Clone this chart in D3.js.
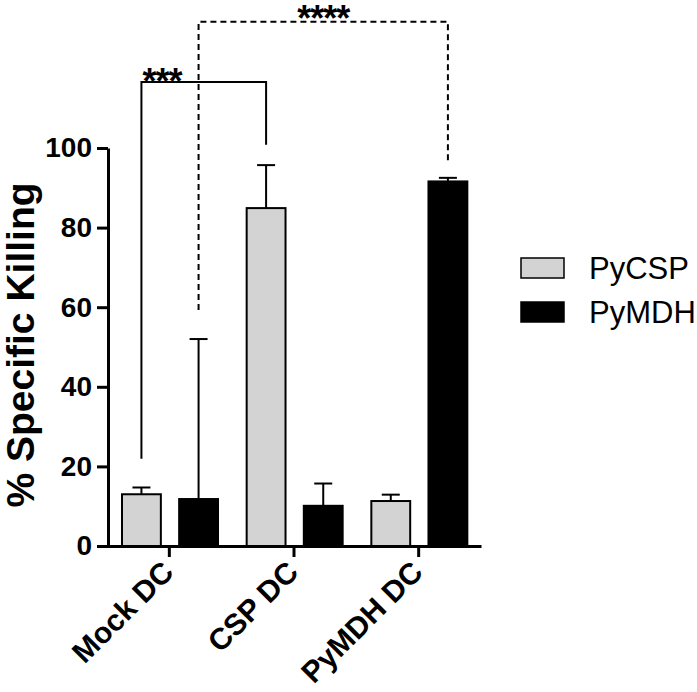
<!DOCTYPE html>
<html>
<head>
<meta charset="utf-8">
<script src="https://cdn.jsdelivr.net/npm/d3@7"></script>
<style>
  body { margin: 0; background: #fff; }
  svg text { font-family: "Liberation Sans", Arial, Helvetica, sans-serif; }
</style>
</head>
<body>
<div id="viz-wrapper"></div>
<script>
  // size of the page
  var width = 697,
      height = 692;

  // data
  var groups = ["Mock DC", "CSP DC", "PyMDH DC"];
  var series = ["PyCSP", "PyMDH"];
  var means = {
    "PyCSP": [13.0, 84.9, 11.3],
    "PyMDH": [11.8, 10.1, 91.6]
  };
  var errTop = {
    "PyCSP": [14.7, 95.7, 12.9],
    "PyMDH": [52.0, 15.7, 92.5]
  };
  var yTicks = [0, 20, 40, 60, 80, 100];
  var colors = ["#d3d3d3", "#000000"];

  // significance brackets: [group, series] for each leg, leg bottoms, bar height
  var brackets = [
    { from: [0, "PyCSP"], to: [1, "PyCSP"], lo: [21.9, 100.8], top: 116.6, label: "***", dashed: false, align: "start", gap: 4 },
    { from: [0, "PyMDH"], to: [2, "PyMDH"], lo: [59.3, 96.5], top: 131.7, label: "****", dashed: true, align: "middle", gap: 7 }
  ];

  var viz = d3.select("#viz-wrapper")
    .append("svg")
    .attr("width", width)
    .attr("height", height);

  // scales
  var x = d3.scaleBand().domain(groups).range([107, 481]);
  var x1 = d3.scaleBand().domain(series).range([15, 111]).paddingInner(0.32);
  var y = d3.scaleLinear().domain([0, 100]).range([546, 148]);
  var color = d3.scaleOrdinal().domain(series).range(colors);

  function cx(gi, s) {
    return x(groups[gi]) + x1(s) + x1.bandwidth() / 2;
  }

  // flatten into rows for the bars
  var rows = [];
  groups.forEach(function(g, i) {
    series.forEach(function(s) {
      rows.push({ group: g, gi: i, series: s, value: means[s][i], err: errTop[s][i] });
    });
  });

  // error bars (drawn first, bar covers the lower part)
  var eb = viz.append("g").attr("stroke", "#000").attr("stroke-width", 2);
  eb.selectAll("line.stem")
    .data(rows)
    .enter()
    .append("line")
    .attr("x1", function(d) { return cx(d.gi, d.series); })
    .attr("x2", function(d) { return cx(d.gi, d.series); })
    .attr("y1", function(d) { return y(d.value); })
    .attr("y2", function(d) { return y(d.err); });
  eb.selectAll("line.cap")
    .data(rows)
    .enter()
    .append("line")
    .attr("x1", function(d) { return cx(d.gi, d.series) - 9; })
    .attr("x2", function(d) { return cx(d.gi, d.series) + 9; })
    .attr("y1", function(d) { return y(d.err); })
    .attr("y2", function(d) { return y(d.err); });

  // bars
  viz.append("g")
    .selectAll("rect")
    .data(rows)
    .enter()
    .append("rect")
    .attr("x", function(d) { return x(d.group) + x1(d.series); })
    .attr("y", function(d) { return y(d.value); })
    .attr("width", x1.bandwidth())
    .attr("height", function(d) { return y(0) - y(d.value); })
    .attr("fill", function(d) { return color(d.series); })
    .attr("stroke", "#000")
    .attr("stroke-width", 2);

  // y axis
  var yAxis = viz.append("g")
    .attr("transform", "translate(108,0)")
    .call(d3.axisLeft(y).tickValues(yTicks).tickSize(11).tickSizeOuter(0).tickPadding(5));
  yAxis.select(".domain").attr("stroke-width", 3);
  yAxis.selectAll(".tick line").attr("stroke-width", 3);
  yAxis.selectAll(".tick text")
    .attr("font-size", 28)
    .attr("font-weight", "bold")
    .attr("fill", "#000");

  // x axis
  var xAxis = viz.append("g")
    .attr("transform", "translate(0," + y(0) + ")")
    .call(d3.axisBottom(x).tickSize(11).tickSizeOuter(0).tickFormat(""));
  xAxis.select(".domain").attr("stroke-width", 3);
  xAxis.selectAll(".tick line").attr("stroke-width", 3);

  // rotated category labels
  viz.append("g")
    .selectAll("text")
    .data(groups)
    .enter()
    .append("text")
    .attr("transform", function(d) {
      return "translate(" + (x(d) + x.bandwidth() / 2 + 6) + "," + (y(0) + 28) + ") rotate(-45)";
    })
    .attr("text-anchor", "end")
    .attr("font-size", 30)
    .attr("font-weight", "bold")
    .text(function(d) { return d; });

  // y title
  viz.append("text")
    .attr("transform", "translate(34," + 345 + ") rotate(-90)")
    .attr("text-anchor", "middle")
    .attr("font-size", 39)
    .attr("font-weight", "bold")
    .text("% Specific Killing");

  // significance brackets
  brackets.forEach(function(b) {
    var xa = cx(b.from[0], b.from[1]),
        xb = cx(b.to[0], b.to[1]);
    viz.append("path")
      .attr("d", "M" + xa + "," + y(b.lo[0]) + "V" + y(b.top) + "H" + xb + "V" + y(b.lo[1]))
      .attr("fill", "none")
      .attr("stroke", "#000")
      .attr("stroke-width", 2)
      .attr("stroke-dasharray", b.dashed ? "6,4" : null);
    // asterisk glyph sits ~0.44em above the baseline
    viz.append("text")
      .attr("x", b.align == "start" ? xa + 1 : (xa + xb) / 2)
      .attr("y", y(b.top) - b.gap + 0.44 * 36)
      .attr("text-anchor", b.align)
      .attr("font-size", 36)
      .attr("font-weight", "bold")
      .attr("letter-spacing", -1)
      .text(b.label);
  });

  // legend
  var legend = viz.append("g")
    .selectAll("g")
    .data(series)
    .enter()
    .append("g")
    .attr("transform", function(d, i) { return "translate(520," + (268 + i * 44) + ")"; });
  legend.append("rect")
    .attr("x", 1)
    .attr("y", -10)
    .attr("width", 43)
    .attr("height", 20)
    .attr("fill", function(d) { return color(d); })
    .attr("stroke", "#000")
    .attr("stroke-width", 1.5);
  legend.append("text")
    .attr("x", 69)
    .attr("dy", "0.36em")
    .attr("font-size", 31)
    .text(function(d) { return d; });
</script>
</body>
</html>
